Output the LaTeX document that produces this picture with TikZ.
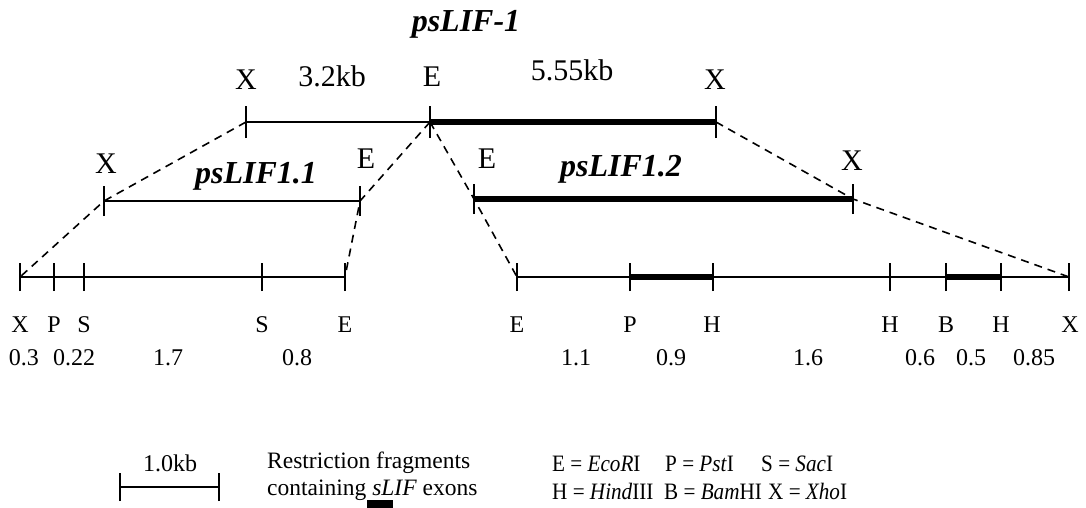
\documentclass[tikz,border=0pt]{standalone}
\usepackage{fontspec}
\setmainfont{Liberation Serif}
\newfontfamily\keyfont[FakeStretch=0.9]{Liberation Serif}
\begin{document}
\begin{tikzpicture}[x=1pt,y=-1pt,
  thinline/.style={line width=1.6pt},
  thickline/.style={line width=6pt},
  tickmark/.style={line width=1.6pt},
  guide/.style={line width=1.6pt,dash pattern=on 8pt off 6pt},
  biglbl/.style={inner sep=0pt,anchor=base,font=\fontsize{30}{32}\selectfont},
  lbl/.style={inner sep=0pt,anchor=base,font=\fontsize{24}{26}\selectfont},
  num/.style={inner sep=0pt,anchor=base,font=\fontsize{24}{26}\selectfont},
  ttl/.style={inner sep=0pt,anchor=base,font=\fontsize{32}{34}\selectfont\bfseries\itshape},
  leg/.style={inner sep=0pt,anchor=base west,font=\fontsize{23.5}{26}\selectfont},
  keytxt/.style={inner sep=0pt,anchor=base west,font=\fontsize{23.5}{26}\keyfont}]
\useasboundingbox (0,0) rectangle (1086,508);

% parent clone psLIF-1
\coordinate (tX1) at (246,122);
\coordinate (tE)  at (430,122);
\coordinate (tX2) at (716,122);
% subclones
\coordinate (aX) at (104,201);
\coordinate (aE) at (360,201);
\coordinate (bE) at (474,199);
\coordinate (bX) at (853,199);
% restriction maps
\coordinate (lX)  at (20,277);
\coordinate (lP)  at (54,277);
\coordinate (lS1) at (84,277);
\coordinate (lS2) at (262,277);
\coordinate (lE)  at (345,277);
\coordinate (rE)  at (517,277);
\coordinate (rP)  at (630,277);
\coordinate (rH1) at (713,277);
\coordinate (rH2) at (890,277);
\coordinate (rB)  at (946,277);
\coordinate (rH3) at (1001,277);
\coordinate (rX)  at (1069,277);

% lines
\draw[thinline] (tX1) -- (tE);
\draw[thickline] (tE) -- (tX2);
\draw[thinline] (aX) -- (aE);
\draw[thickline] (bE) -- (bX);
\draw[thinline] (lX) -- (lE);
\draw[thinline] (rE) -- (rX);
\draw[thickline] (rP) -- (rH1);
\draw[thickline] (rB) -- (rH3);

% ticks
\foreach \p in {tX1,tE,tX2}
  \draw[tickmark] ([yshift=-16pt]\p) -- ([yshift=16pt]\p);
\foreach \p in {aX,aE,bE,bX}
  \draw[tickmark] ([yshift=-15pt]\p) -- ([yshift=15pt]\p);
\foreach \p in {lX,lP,lS1,lS2,lE,rE,rP,rH1,rH2,rB,rH3,rX}
  \draw[tickmark] ([yshift=-14pt]\p) -- ([yshift=14pt]\p);

% dashed guides
\draw[guide] (tX1) -- (aX) -- (lX);
\draw[guide] (tE) -- (aE) -- (lE);
\draw[guide] (tE) -- (bE) -- (rE);
\draw[guide] (tX2) -- (bX) -- (rX);

% labels, top
\node[ttl] (t1) at (466,32) {psLIF-1};
\node[biglbl] (n1) at (246,90) {X};
\node[biglbl] (n2) at (332,87) {3.2kb};
\node[biglbl] (n3) at (432,87) {E};
\node[biglbl] (n4) at (572,81) {5.55kb};
\node[biglbl] (n5) at (715,90) {X};
% labels, subclones
\node[biglbl] (n6) at (106,173) {X};
\node[ttl] (t2) at (256,183) {psLIF1.1};
\node[biglbl] (n7) at (366,168) {E};
\node[biglbl] (n8) at (487,168) {E};
\node[ttl] (t3) at (621,176) {psLIF1.2};
\node[biglbl] (n9) at (852,170) {X};
% site letters
\foreach \x/\t [count=\i] in {20/X,54/P,84/S,262/S,345/E,517/E,630/P,712/H,890/H,946/B,1001/H,1070/X}
  \node[lbl] (s\i) at (\x,332) {\t};
% fragment sizes
\foreach \x/\t [count=\i] in {24/0.3,74/0.22,168/1.7,297/0.8,576/1.1,671/0.9,808/1.6,920/0.6,971/0.5,1034/0.85}
  \node[num] (f\i) at (\x,365) {\t};

% legend: scale bar
\node[num] (kb) at (170,471) {1.0kb};
\coordinate (sb1) at (120,487);
\coordinate (sb2) at (219,487);
\draw[thinline] (sb1) -- (sb2);
\foreach \p in {sb1,sb2}
  \draw[tickmark] ([yshift=-14pt]\p) -- ([yshift=14pt]\p);
% legend: exon-containing fragments
\node[leg] (g1) at (267,468) {Restriction fragments};
\node[leg] (g2) at (267,495) {containing \textit{sLIF} exons};
\fill (367,500) rectangle (393,508);
% legend: enzyme key
\node[keytxt] (k1) at (552,471) {E = \textit{EcoR}I};
\node[keytxt] (k2) at (665,471) {P = \textit{Pst}I};
\node[keytxt] (k3) at (761,471) {S = \textit{Sac}I};
\node[keytxt] (k4) at (552,499) {H = \textit{Hind}III};
\node[keytxt] (k5) at (664,499) {B = \textit{Bam}HI};
\node[keytxt] (k6) at (768,499) {X = \textit{Xho}I};
\end{tikzpicture}
\end{document}
